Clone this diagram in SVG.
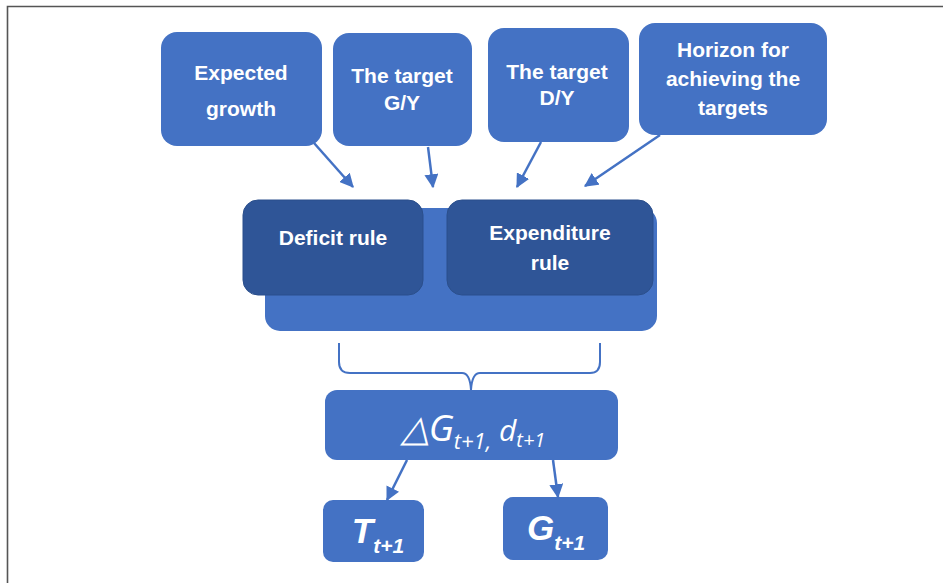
<svg xmlns="http://www.w3.org/2000/svg" width="943" height="583" viewBox="0 0 943 583">
<style>
.box{fill:#4472c4}
.dark{fill:#2f5597;stroke:#2b4f8c;stroke-width:1}
.lbl{font-family:"Liberation Sans",Arial,sans-serif;font-weight:bold;font-size:21px;fill:#fff;text-anchor:middle}
.math{font-family:"Open Sans","Liberation Sans",sans-serif;font-style:italic;fill:#fff;text-anchor:middle}
.mb{font-family:"Liberation Sans",Arial,sans-serif;font-style:italic;font-weight:bold;fill:#fff;text-anchor:middle}
.conn{stroke:#4472c4;stroke-width:2.5;fill:none;marker-end:url(#ah2)}
</style>
<defs>
<marker id="ah2" viewBox="0 0 12 12" refX="11" refY="6" markerWidth="14" markerHeight="14" markerUnits="userSpaceOnUse" orient="auto">
<path d="M0,0 L12,6 L0,12 z" fill="#4472c4"/>
</marker>
</defs>
<rect width="943" height="583" fill="#fff"/>
<path d="M7.5,583 V6.5 H943" fill="none" stroke="#555" stroke-width="1.6"/>

<g id="expected-growth"><rect class="box" x="161" y="32" width="161" height="114" rx="16"/>
<text class="lbl" x="241" y="80">Expected</text><text class="lbl" x="241" y="116">growth</text></g>
<g id="target-gy"><rect class="box" x="333" y="33" width="139" height="113" rx="16"/>
<text class="lbl" x="402" y="83">The target</text><text class="lbl" x="402" y="110">G/Y</text></g>
<g id="target-dy"><rect class="box" x="488" y="28" width="141" height="114" rx="16"/>
<text class="lbl" x="557" y="79">The target</text><text class="lbl" x="557" y="105">D/Y</text></g>
<g id="horizon"><rect class="box" x="639" y="23" width="188" height="112" rx="16"/>
<text class="lbl" x="733" y="57">Horizon for</text><text class="lbl" x="733" y="86">achieving the</text><text class="lbl" x="733" y="115">targets</text></g>

<g id="rules">
<rect class="box" x="265" y="208" width="392" height="123" rx="15"/>
<g id="deficit-rule"><rect class="dark" x="243" y="200" width="180" height="95" rx="15"/>
<text class="lbl" x="333" y="245">Deficit rule</text></g>
<g id="expenditure-rule"><rect class="dark" x="447" y="200" width="206" height="95" rx="15"/>
<text class="lbl" x="550" y="240">Expenditure</text><text class="lbl" x="550" y="270">rule</text></g>
</g>

<g id="delta"><rect class="box" x="325" y="390" width="293" height="70" rx="12"/>
<text class="math" x="473" y="441"><tspan font-size="37">△G</tspan><tspan font-size="22" dy="8">t+1,</tspan><tspan font-size="30" dy="-8"> d</tspan><tspan font-size="20" dy="6">t+1</tspan></text></g>
<g id="t-next"><rect class="box" x="323" y="500" width="101" height="62" rx="10"/>
<text class="mb" x="378" y="543"><tspan font-size="35">T</tspan><tspan font-size="21" dy="10">t+1</tspan></text></g>
<g id="g-next"><rect class="box" x="503" y="497" width="105" height="63" rx="10"/>
<text class="mb" x="556" y="540"><tspan font-size="35">G</tspan><tspan font-size="21" dy="10">t+1</tspan></text></g>

<g id="connectors">
<path class="conn" d="M314,143 L353,187"/>
<path class="conn" d="M428,147 L433,187"/>
<path class="conn" d="M541,142 L517,187"/>
<path class="conn" d="M660,135 L585,186"/>
<path class="conn" d="M407,460 L387,500"/>
<path class="conn" d="M553,460 L558,497"/>
<path d="M339,343 V362 Q339,373 350,373 H462 Q470,373 471,390 Q472,373 480,373 H590 Q600,373 600,362 V343" fill="none" stroke="#4472c4" stroke-width="2"/>
</g>
</svg>
